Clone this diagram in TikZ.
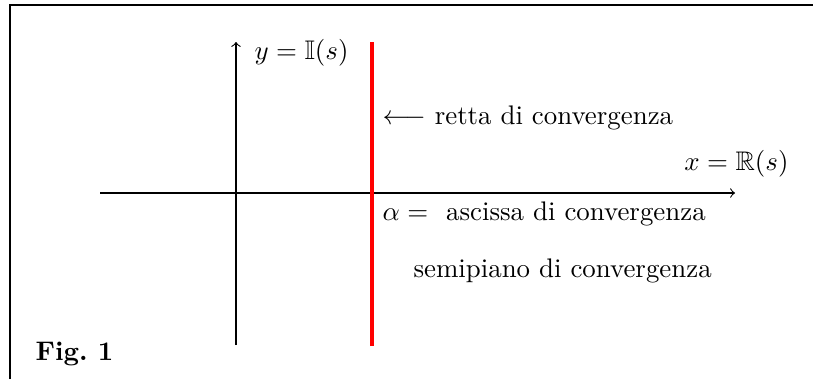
\documentclass[tikz,border=0pt]{standalone}
\usepackage{amssymb}
\begin{document}
\begin{tikzpicture}[x=0.372pt,y=-0.372pt,
    axis/.style={line width=0.4pt, ->},
    lbl/.style={inner sep=0pt, anchor=west}]
    \useasboundingbox (0,0) rectangle (813,379);
    % cornice
    \draw[line width=0.75pt] (10,379) -- (10,5) -- (813,5);

    % assi
    \coordinate (xs) at (100,193);
    \coordinate (xe) at (735,193);
    \coordinate (ys) at (236,345);
    \coordinate (ye) at (236,42);
    \draw[axis] (xs) -- (xe);
    \draw[axis] (ys) -- (ye);

    % retta di convergenza
    \coordinate (rs) at (372,346);
    \coordinate (re) at (372,42);
    \draw[red, line width=1.4pt] (rs) -- (re);

    \node[lbl] (ylab) at (254,53) {$y=\mathbb{I}(s)$};
    \node[lbl, anchor=east] (xlab) at (789,164) {$x=\mathbb{R}(s)$};
    \node[lbl] (retta) at (382,118) {$\longleftarrow$ retta di convergenza};
    \node[lbl] (ascissa) at (382,214) {$\alpha=$ \ ascissa di convergenza};
    \node[lbl] (semi) at (413,271) {semipiano di convergenza};
    \node[lbl] (fig) at (35,354) {\textbf{Fig.\ 1}};
\end{tikzpicture}
\end{document}
